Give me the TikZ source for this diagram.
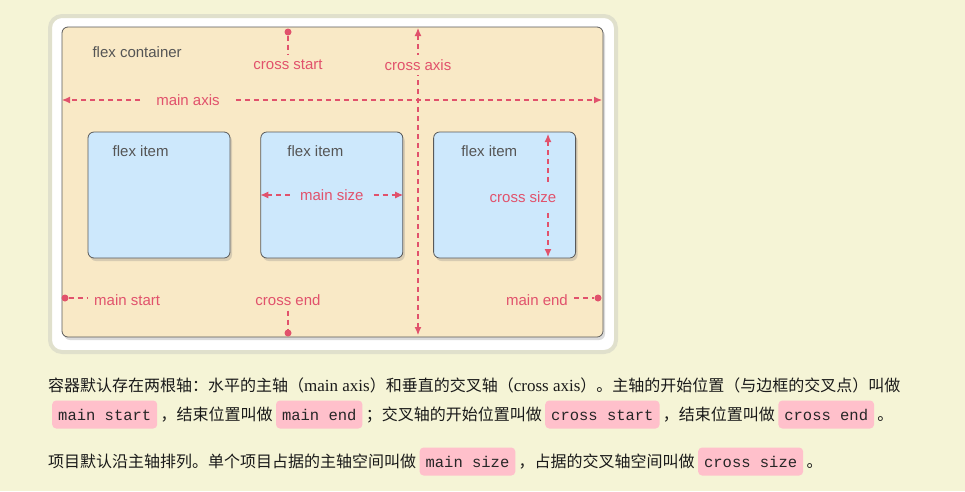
\documentclass[tikz,border=0pt]{standalone}
\usepackage{fontspec}
\setmainfont{Liberation Serif}
\setsansfont{Liberation Sans}
\setmonofont{Liberation Mono}
\newfontfamily\cjk{Noto Sans CJK SC}
\usetikzlibrary{positioning,shadows,arrows.meta}
\definecolor{pagebg}{RGB}{245,244,214}
\definecolor{framegray}{RGB}{224,224,204}
\definecolor{boxbg}{RGB}{249,233,198}
\definecolor{itembg}{RGB}{205,232,252}
\definecolor{axispink}{RGB}{225,82,108}
\definecolor{codepink}{RGB}{255,192,203}
\definecolor{labelgray}{RGB}{85,85,85}

\tikzset{
  flexbox/.style={draw=black!65, line width=0.8pt, rounded corners=6pt,
    drop shadow={shadow xshift=2pt, shadow yshift=-3pt, opacity=0.28}},
  axislabel/.style={text=axispink, font=\sffamily\fontsize{15}{18}\selectfont, inner sep=1pt},
  axisline/.style={draw=axispink, line width=1.1pt, dash pattern=on 5pt off 4pt},
  endpoint/.style={circle, fill=axispink, inner sep=0pt, minimum size=7pt},
  tip/.style={-{Latex[length=8pt,width=7pt]}},
  tips/.style={{Latex[length=8pt,width=7pt]}-{Latex[length=8pt,width=7pt]}},
  codebox/.style={fill=codepink, rounded corners=4pt, text=black!85,
    font=\ttfamily\fontsize{15.5}{18}\selectfont, inner xsep=6pt, inner ysep=6.5pt,
    text height=13pt, text depth=2pt, anchor=base west},
  plaintext/.style={font=\cjk\fontsize{16}{20}\selectfont, text=black!90,
    inner xsep=3pt, inner ysep=0pt, anchor=base west}
}

\begin{document}
\begin{tikzpicture}[x=1pt,y=-1pt]
\fill[pagebg] (0,0) rectangle (965,491);
\useasboundingbox (0,0) rectangle (965,491);

% outer frame
\draw[framegray, line width=4pt, fill=white, rounded corners=12pt] (50,16) rectangle (616,352);

% container and items
\node[flexbox, fill=boxbg, minimum width=541pt, minimum height=310pt] (container) at (332.5,182) {};
\node[flexbox, fill=itembg, minimum width=142pt, minimum height=126pt] (item1) at (159,195) {};
\node[flexbox, fill=itembg, minimum width=142pt, minimum height=126pt, right=30pt of item1] (item2) {};
\node[flexbox, fill=itembg, minimum width=142pt, minimum height=126pt, right=30pt of item2] (item3) {};

\node[anchor=west, text=labelgray, font=\sffamily\fontsize{15}{18}\selectfont] (title) at (89,52) {flex container};
\foreach \i/\dx in {1/53,2/55,3/56}
  \node[text=labelgray, font=\sffamily\fontsize{15}{18}\selectfont] (label\i) at ([xshift=\dx pt,yshift=-20pt]item\i.north west) {flex item};

% main axis
\coordinate (maxisL) at (62,100);
\coordinate (maxisR) at (602,100);
\node[axislabel, inner xsep=16pt] (maxis) at (188,100) {main axis};
\draw[axisline, tip] (maxis.west) -- (maxisL);
\draw[axisline, tip] (maxis.east) -- (maxisR);

% cross axis
\coordinate (caxisT) at (418,28);
\coordinate (caxisB) at (418,335);
\draw[axisline, tips] (caxisT) -- (caxisB);
\node[axislabel, fill=boxbg, inner xsep=0pt, inner ysep=4pt] (caxis) at (418,65) {cross axis};

% cross start / cross end
\node[endpoint] (cstartdot) at (288,32) {};
\node[axislabel, inner ysep=5pt] (cstart) at (288,65) {cross start};
\draw[axisline] (cstartdot) -- (cstart.north);
\node[axislabel, inner ysep=5pt] (cend) at (288,300) {cross end};
\node[endpoint] (cenddot) at (288,333) {};
\draw[axisline] (cend.south) -- (cenddot);

% main start / main end
\node[endpoint] (mstartdot) at (65,298) {};
\node[axislabel, anchor=west, inner xsep=6pt] (mstart) at (88,300) {main start};
\draw[axisline] (mstartdot) -- (mstart.west |- mstartdot);
\node[endpoint] (menddot) at (598,298) {};
\node[axislabel, anchor=east, inner xsep=6pt] (mend) at (574,300) {main end};
\draw[axisline] (mend.east |- menddot) -- (menddot);

% main size
\node[axislabel, inner xsep=10pt] (msize) at (item2.center) {main size};
\draw[axisline, tip] (msize.west) -- (item2.west);
\draw[axisline, tip] (msize.east) -- (item2.east);

% cross size
\coordinate (csizeT) at (548,134);
\coordinate (csizeB) at (548,257);
\draw[axisline, tips] (csizeT) -- (csizeB);
\node[axislabel, fill=itembg, inner xsep=0pt, inner ysep=6pt] (csize) at (523,197) {cross size};

% text below
\node[plaintext] (line1) at (45,391) {容器默认存在两根轴：水平的主轴（{\rmfamily\fontsize{17}{20}\selectfont main axis}）和垂直的交叉轴（{\rmfamily\fontsize{17}{20}\selectfont cross axis}）。主轴的开始位置（与边框的交叉点）叫做};

\node[codebox] (c1) at (52,420) {main start};
\node[plaintext] (t1) at (c1.base east) {，结束位置叫做};
\node[codebox] (c2) at (t1.base east) {main end};
\node[plaintext] (t2) at (c2.base east) {；交叉轴的开始位置叫做};
\node[codebox] (c3) at (t2.base east) {cross start};
\node[plaintext] (t3) at (c3.base east) {，结束位置叫做};
\node[codebox] (c4) at (t3.base east) {cross end};
\node[plaintext] (t4) at (c4.base east) {。};

\node[plaintext] (t5) at (45,467) {项目默认沿主轴排列。单个项目占据的主轴空间叫做};
\node[codebox] (c5) at (t5.base east) {main size};
\node[plaintext] (t6) at (c5.base east) {，占据的交叉轴空间叫做};
\node[codebox] (c6) at (t6.base east) {cross size};
\node[plaintext] (t7) at (c6.base east) {。};
\end{tikzpicture}
\end{document}
